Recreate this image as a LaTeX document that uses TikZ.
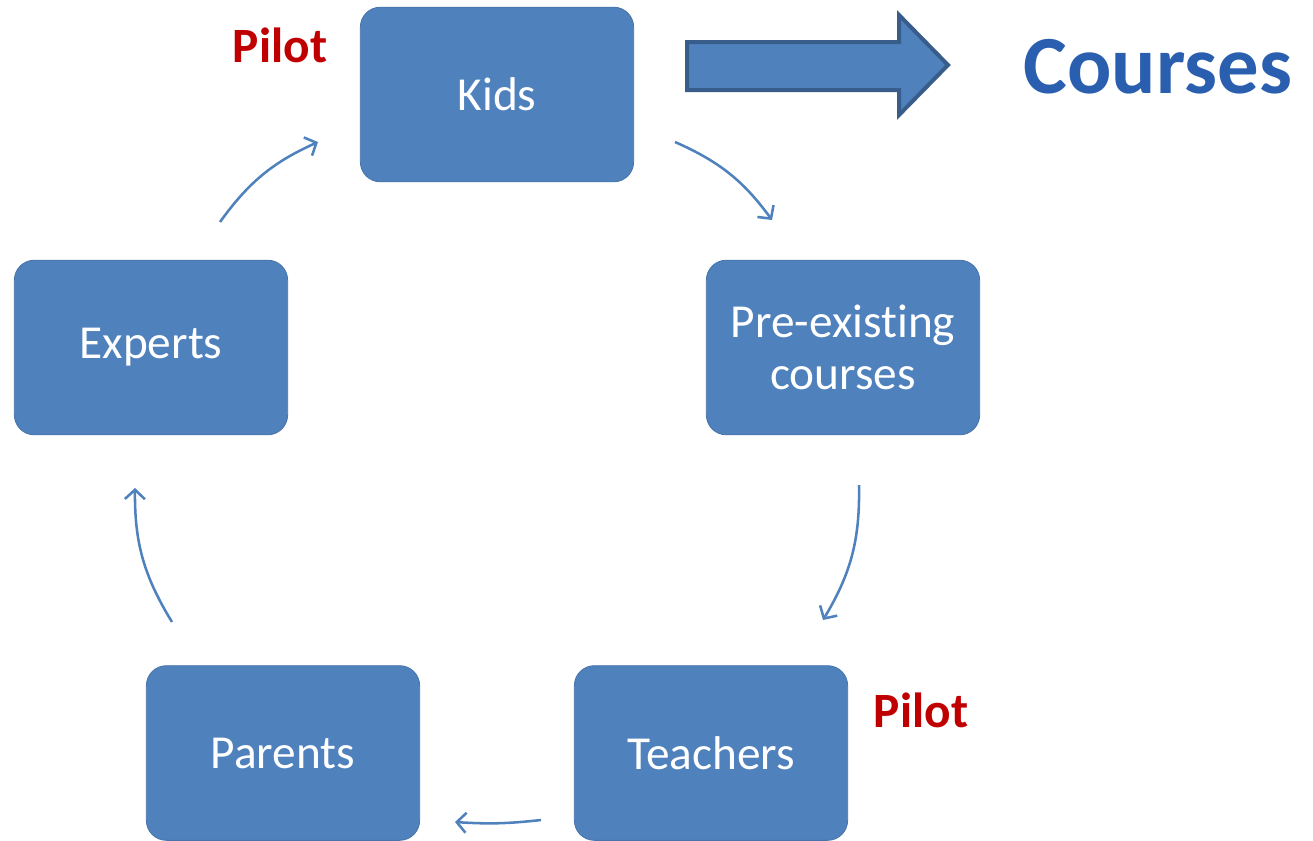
\documentclass[tikz,border=0pt]{standalone}
\usepackage{fontspec}
\setmainfont{Carlito}[Ligatures=NoCommon]
\usetikzlibrary{arrows.meta,calc}
\definecolor{boxblue}{HTML}{4F81BD}
\definecolor{boxedge}{HTML}{385D8A}
\definecolor{pilotred}{HTML}{C00000}
\definecolor{coursesblue}{HTML}{2A5FB0}
\tikzset{
  cyclebox/.style={rectangle, rounded corners=15pt, fill=boxblue, draw=boxblue!90!black, line width=0.6pt,
    minimum width=205pt, minimum height=131pt, text=white, align=center,
    font=\fontsize{35.5}{39}\selectfont},
  flow/.style={draw=boxblue, line width=1.9pt, -{Straight Barb[length=7pt,width=15pt,line width=1.9pt]}},
  pilot/.style={text=pilotred, font=\bfseries\fontsize{37}{40}\selectfont},
}
\begin{document}
\begin{tikzpicture}[x=0.75pt,y=-0.75pt]
\useasboundingbox (0,0) rectangle (1313,840);
\node[cyclebox] (kids) at (497,94.5) {Kids};
\node[cyclebox] (pre) at (843,347.5) {Pre-existing\\courses};
\node[cyclebox] (teachers) at (711,753) {Teachers};
\node[cyclebox] (parents) at (283,753) {Parents};
\node[cyclebox] (experts) at (151,347.5) {Experts};

\coordinate (kp1) at (675,142); \coordinate (kp2) at (772,220);
\coordinate (pt1) at (859,485); \coordinate (pt2) at (823,620);
\coordinate (tp1) at (541,820); \coordinate (tp2) at (455,822);
\coordinate (pe1) at (172,622); \coordinate (pe2) at (135,488);
\coordinate (ek1) at (220,222); \coordinate (ek2) at (318,142);
\draw[flow] (kp1) to[bend left=15] (kp2);
\draw[flow] (pt1) to[bend left=16] (pt2);
\draw[flow] (tp1) to[bend left=5] (tp2);
\draw[flow] (pe1) to[bend left=16] (pe2);
\draw[flow] (ek1) to[bend left=15] (ek2);

% big block arrow
\draw[fill=boxblue, draw=boxedge, line width=3pt, line join=miter]
  (687,42) -- (899,42) -- (899,15) -- (948,65) -- (899,115) -- (899,90) -- (687,90) -- cycle;
\coordinate (bigtip) at (948,65);

\node[text=coursesblue, font=\bfseries\fontsize{62}{66}\selectfont, anchor=west] (courses) at (1019,67) {Courses};

\node[pilot] (pilot1) at (280,45) {Pilot};
\node[pilot] (pilot2) at (921,710) {Pilot};
\end{tikzpicture}
\end{document}
